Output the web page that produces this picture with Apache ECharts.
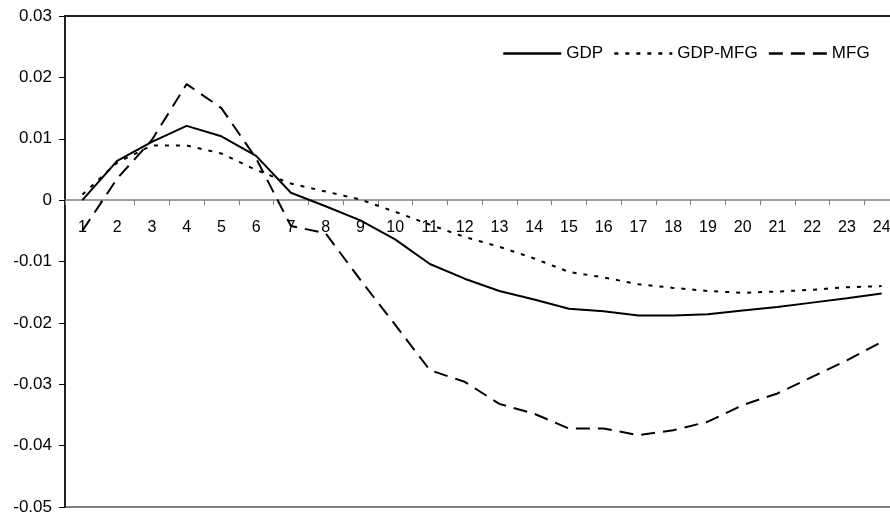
<!DOCTYPE html>
<html>
<head>
<meta charset="utf-8">
<script src="https://cdn.jsdelivr.net/npm/echarts@6/dist/echarts.min.js"></script>
<style>html,body{margin:0;padding:0;background:#fff}#c{width:890px;height:516px}</style>
</head>
<body>
<div id="c"></div>
<script>
const categories = ['1','2','3','4','5','6','7','8','9','10','11','12','13','14','15','16','17','18','19','20','21','22','23','24'];
const gdp = [0.0000, 0.0064, 0.0095, 0.0121, 0.0104, 0.0072, 0.0012, -0.0010, -0.0033, -0.0064, -0.0104, -0.0128, -0.0148, -0.0162, -0.0177, -0.0181, -0.0188, -0.0188, -0.0186, -0.0180, -0.0174, -0.0167, -0.0160, -0.0152];
const gdpMfg = [0.0009, 0.0061, 0.0089, 0.0089, 0.0076, 0.0049, 0.0027, 0.0014, 0.0001, -0.0019, -0.0040, -0.0060, -0.0076, -0.0095, -0.0117, -0.0126, -0.0137, -0.0143, -0.0148, -0.0151, -0.0149, -0.0146, -0.0142, -0.0140];
const mfg = [-0.0050, 0.0035, 0.0098, 0.0189, 0.0150, 0.0068, -0.0042, -0.0054, -0.0130, -0.0203, -0.0277, -0.0296, -0.0332, -0.0348, -0.0372, -0.0372, -0.0383, -0.0375, -0.0361, -0.0334, -0.0315, -0.0288, -0.0261, -0.0231];
const seriesNames = ['GDP', 'GDP-MFG', 'MFG'];
const yMin = -0.05, yMax = 0.03, yStep = 0.01;

const FONT = 'Liberation Sans';
const GRID_H = 491;
// move the category axis up to the y = 0 level of the value axis
const zeroOffset = -GRID_H * (0 - yMin) / (yMax - yMin);

const chart = echarts.init(document.getElementById('c'));
chart.setOption({
  animation: false,
  backgroundColor: '#fff',
  grid: { left: 65, top: 16, width: 834, height: GRID_H, show: true, borderColor: '#808080', borderWidth: 2, outerBoundsMode: 'none' },
  legend: {
    data: seriesNames, left: 502, top: 45, padding: 0,
    itemWidth: 58, itemHeight: 14, itemGap: 10,
    textStyle: { fontFamily: FONT, fontSize: 17, color: '#000' },
    lineStyle: { width: 2.5 },
    itemStyle: { opacity: 0 }
  },
  xAxis: [
    {
      type: 'category', data: categories, boundaryGap: true, position: 'bottom', offset: zeroOffset,
      axisLine: { onZero: false, lineStyle: { color: '#808080', width: 1.5 } },
      axisTick: { show: true, length: 5, lineStyle: { color: '#808080' } },
      axisLabel: { fontFamily: FONT, fontSize: 16, color: '#000', margin: 19, interval: 0 }
    },
    {
      type: 'category', data: categories, boundaryGap: true, position: 'top',
      axisLine: { onZero: false, lineStyle: { color: '#000', width: 1.5 } },
      axisTick: { show: false }, axisLabel: { show: false }, splitLine: { show: false }
    }
  ],
  yAxis: {
    type: 'value', min: yMin, max: yMax, interval: yStep,
    axisLine: { show: true, onZero: false, lineStyle: { color: '#000', width: 1.5 } },
    axisTick: { show: true, length: 6, lineStyle: { color: '#000' } },
    axisLabel: { fontFamily: FONT, fontSize: 17, color: '#000', margin: 13 },
    splitLine: { show: false }
  },
  series: [
    { name: seriesNames[0], type: 'line', data: gdp, symbol: 'none', xAxisIndex: 0,
      lineStyle: { color: '#000', width: 2, type: 'solid' }, itemStyle: { color: '#000' } },
    { name: seriesNames[1], type: 'line', data: gdpMfg, symbol: 'none', xAxisIndex: 0,
      lineStyle: { color: '#000', width: 2, type: [4, 7] }, itemStyle: { color: '#000' } },
    { name: seriesNames[2], type: 'line', data: mfg, symbol: 'none', xAxisIndex: 0,
      lineStyle: { color: '#000', width: 2, type: [14, 8] }, itemStyle: { color: '#000' } }
  ]
});
</script>
</body>
</html>
